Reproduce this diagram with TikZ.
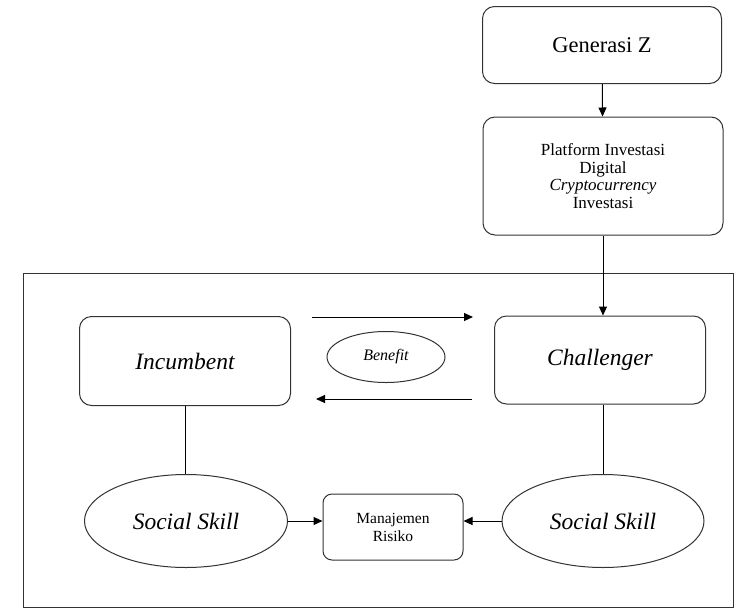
\documentclass[tikz,border=0pt]{standalone}
\usepackage{fontspec}
\setmainfont{Liberation Serif}
\usetikzlibrary{arrows.meta,shapes.geometric}

\begin{document}
\begin{tikzpicture}[x=1pt,y=-1pt,>={Triangle[length=9pt,width=8pt]},line width=1pt]
\tikzstyle{box}=[draw=black!80,rounded corners=12pt,align=center,inner sep=2pt]
\tikzstyle{oval}=[draw=black!80,ellipse,inner sep=0pt]
\tikzstyle{big}=[font=\fontsize{23.5}{27}\selectfont\itshape]
\useasboundingbox (0,0) rectangle (736,611);
\draw[black!80] (23,273) rectangle (733,607);
\node[box,minimum width=239pt,minimum height=77pt,font=\fontsize{22.5}{26}\selectfont] (GZ) at (602,45) {Generasi Z};
\node[box,minimum width=240pt,minimum height=118pt,font=\fontsize{17}{17.5}\selectfont] (PI) at (603,176) {Platform Investasi\\Digital\\\textit{Cryptocurrency}\\Investasi};
\node[box,big,minimum width=211pt,minimum height=89pt] (IN) at (185,361) {Incumbent};
\node[box,big,minimum width=211pt,minimum height=88pt] (CH) at (600,360) {Challenger};
\node[oval,minimum width=118pt,minimum height=51pt,font=\fontsize{16}{18}\selectfont\itshape] (BE) at (386,357) {Benefit};
\node[oval,big,minimum width=203pt,minimum height=93pt] (SL) at (186,521) {Social Skill};
\node[oval,big,minimum width=202pt,minimum height=93pt] (SR) at (603,521) {Social Skill};
\node[box,rounded corners=9pt,minimum width=140pt,minimum height=66pt,font=\fontsize{15.5}{18}\selectfont] (MR) at (393,527) {Manajemen\\Risiko};
\coordinate (B1) at (312,317);
\coordinate (B2) at (473,317);
\coordinate (B3) at (472,399);
\coordinate (B4) at (316,399);
\draw[->] (GZ) to (PI);
\draw[->] (PI.south) to (PI.south |- CH.north);
\draw[->] (B1) to (B2);
\draw[->] (B3) to (B4);
\draw (IN.south) to (IN.south |- SL.north);
\draw (SR.north |- CH.south) to (SR.north);
\draw[->] (SL.east) to (SL.east -| MR.west);
\draw[->] (SR.west) to (SR.west -| MR.east);
\end{tikzpicture}
\end{document}
